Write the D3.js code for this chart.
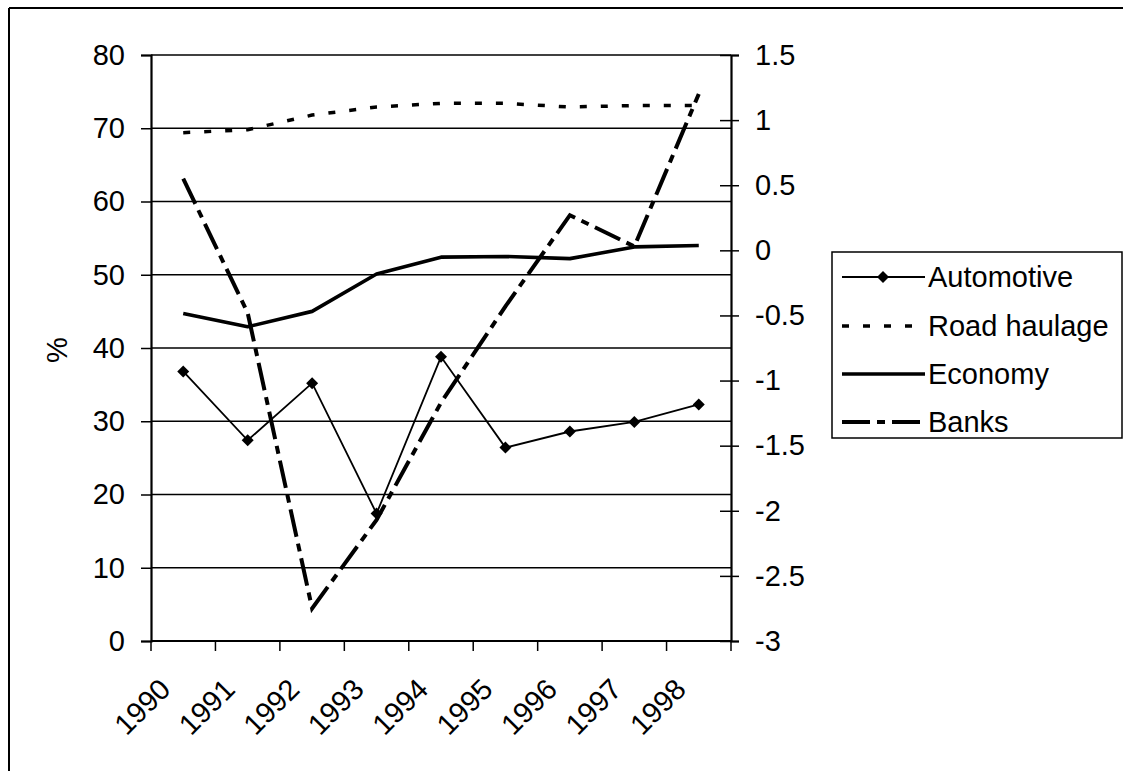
<!DOCTYPE html>
<html><head><meta charset="utf-8">
<script src="https://cdn.jsdelivr.net/npm/d3@7"></script>
<style>
html,body{margin:0;padding:0;background:#fff;overflow:hidden;}
svg{display:block;}
svg text{font-family:"Liberation Sans",Arial,sans-serif;fill:#000;}
</style></head>
<body><svg id="c" width="1123" height="771"></svg>
<script>
const years = ["1990","1991","1992","1993","1994","1995","1996","1997","1998"];
const automotive = [36.8, 27.4, 35.2, 17.4, 38.8, 26.4, 28.6, 29.9, 32.3];
const roadHaulage = [69.4, 69.8, 71.8, 72.9, 73.4, 73.4, 72.9, 73.1, 73.1];
const economy = [44.7, 42.9, 45.0, 50.1, 52.4, 52.5, 52.2, 53.8, 54.0];
const banks = [0.55, -0.48, -2.75, -2.07, -1.17, -0.43, 0.27, 0.03, 1.2];
const leftTicks = [0,10,20,30,40,50,60,70,80];
const rightTicks = [-3,-2.5,-2,-1.5,-1,-0.5,0,0.5,1,1.5];
const seriesNames = ["Automotive","Road haulage","Economy","Banks"];

const svg = d3.select("#c");
const FS = 29;

// outer frame (top and left edges only visible)
svg.append("line").attr("x1",9).attr("x2",1123).attr("y1",8).attr("y2",8)
  .attr("stroke","#000").attr("stroke-width",2);
svg.append("line").attr("x1",9).attr("x2",9).attr("y1",8).attr("y2",771)
  .attr("stroke","#000").attr("stroke-width",2);

const x = d3.scaleBand().domain(years).range([151,731]);
const cx = d => x(d) + x.bandwidth()/2;
const yL = d3.scaleLinear().domain([0,80]).range([641,55]);
const yR = d3.scaleLinear().domain([-3,1.5]).range([641,55]);

// gridlines
svg.append("g").selectAll("line").data(leftTicks.filter(d=>d>0)).join("line")
  .attr("x1",151).attr("x2",731).attr("y1",d=>yL(d)).attr("y2",d=>yL(d))
  .attr("stroke","#000").attr("stroke-width",1.5);

// left axis
const gl = svg.append("g").attr("transform","translate(151,0)")
  .call(d3.axisLeft(yL).tickValues(leftTicks).tickSize(10).tickPadding(16).tickFormat(d=>String(d)));
gl.select(".domain").attr("stroke-width",2.2);
gl.selectAll(".tick line").attr("stroke-width",1.5);
gl.selectAll("text").attr("font-size",FS).attr("font-family","Liberation Sans, Arial, sans-serif");

// right axis
const gr = svg.append("g").attr("transform","translate(731,0)")
  .call(d3.axisRight(yR).tickValues(rightTicks).tickSize(8).tickPadding(16).tickFormat(d=>String(d)));
gr.select(".domain").attr("stroke-width",2.2);
gr.selectAll(".tick line").attr("x1",-11).attr("stroke-width",1.5);
gr.selectAll("text").attr("font-size",FS).attr("font-family","Liberation Sans, Arial, sans-serif");

// bottom axis
const bounds = years.map(y=>x(y)).concat([x.range()[1]]);
svg.append("line").attr("x1",151).attr("x2",731).attr("y1",641).attr("y2",641)
  .attr("stroke","#000").attr("stroke-width",2.2);
svg.append("g").selectAll("line").data(bounds).join("line")
  .attr("x1",d=>d).attr("x2",d=>d).attr("y1",641).attr("y2",651)
  .attr("stroke","#000").attr("stroke-width",1.5);
svg.append("g").selectAll("text").data(years).join("text")
  .attr("transform",d=>`translate(${cx(d)-11},691) rotate(-45)`)
  .attr("text-anchor","end").attr("font-size",FS).text(d=>d);

// y title
svg.append("text").attr("transform","translate(57,350) rotate(-90)")
  .attr("text-anchor","middle").attr("dy","0.35em").attr("font-size",FS).text("%");

// lines
const lineL = d3.line().x((d,i)=>cx(years[i])).y(d=>yL(d));
const lineR = d3.line().x((d,i)=>cx(years[i])).y(d=>yR(d));

const styles = {
  "Automotive": {w:1.8, dash:null},
  "Road haulage": {w:3.5, dash:"7,14"},
  "Economy": {w:3.6, dash:null},
  "Banks": {w:4, dash:"28,7,8,7"}
};

svg.append("path").attr("d",lineL(roadHaulage)).attr("fill","none").attr("stroke","#000")
  .attr("stroke-width",styles["Road haulage"].w).attr("stroke-dasharray",styles["Road haulage"].dash);
svg.append("path").attr("d",lineL(economy)).attr("fill","none").attr("stroke","#000")
  .attr("stroke-width",styles["Economy"].w).attr("stroke-linejoin","round");
svg.append("path").attr("d",lineR(banks)).attr("fill","none").attr("stroke","#000")
  .attr("stroke-width",styles["Banks"].w).attr("stroke-dasharray",styles["Banks"].dash);
svg.append("path").attr("d",lineL(automotive)).attr("fill","none").attr("stroke","#000")
  .attr("stroke-width",styles["Automotive"].w);
const diamond = d3.symbol().type(d3.symbolSquare).size(72);
svg.append("g").selectAll("path").data(automotive).join("path")
  .attr("transform",(d,i)=>`translate(${cx(years[i])},${yL(d)}) rotate(45)`)
  .attr("d",diamond()).attr("fill","#000");

// legend
svg.append("rect").attr("x",832).attr("y",252).attr("width",290).attr("height",186)
  .attr("fill","#fff").attr("stroke","#000").attr("stroke-width",1.5);
const ly = [277, 326, 374, 422];
seriesNames.forEach((n,i)=>{
  const s = styles[n];
  svg.append("line").attr("x1",842).attr("x2",925).attr("y1",ly[i]).attr("y2",ly[i])
    .attr("stroke","#000").attr("stroke-width",s.w).attr("stroke-dasharray",s.dash);
  if(n==="Automotive"){
    svg.append("path").attr("transform",`translate(883,${ly[i]}) rotate(45)`).attr("d",diamond()).attr("fill","#000");
  }
  svg.append("text").attr("x",928).attr("y",ly[i]).attr("dy","0.35em").attr("font-size",FS).text(n);
});
</script></body></html>
